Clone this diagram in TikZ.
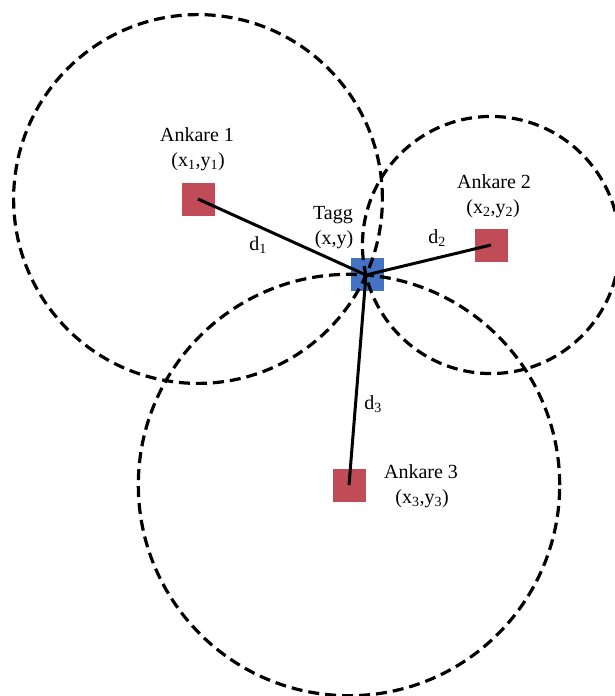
\documentclass[tikz,border=0pt]{standalone}
\usepackage{fontspec}
\setmainfont{Liberation Serif}
\usetikzlibrary{calc}
\definecolor{ankred}{RGB}{192,76,88}
\definecolor{tagblue}{RGB}{68,114,196}
\tikzset{
  anchorsq/.style={rectangle, fill=ankred, minimum size=33pt, inner sep=0pt},
  tagsq/.style={rectangle, fill=tagblue, minimum size=33pt, inner sep=0pt},
  rangecircle/.style={draw=black, line width=3.2pt, dash pattern=on 11pt off 6pt},
  distline/.style={draw=black, line width=3pt},
  lbl/.style={font=\fontsize{20}{23}\selectfont, anchor=base, inner sep=0pt},
}
\begin{document}
\begin{tikzpicture}[x=1pt,y=-1pt]
\useasboundingbox (0,0) rectangle (614,696);
% squares
\node[anchorsq] (a1) at (198,199) {};
\node[anchorsq] (a2) at (491,245) {};
\node[anchorsq] (a3) at (349,485) {};
\node[tagsq] (t) at (367,274) {};
\coordinate (tc) at (366,275);
% circles through the tag
\draw[rangecircle] let \p1=($(tc)-(a1.center)$), \n1={veclen(\x1,\y1)} in (a1.center) circle (\n1);
\draw[rangecircle] let \p1=($(tc)-(a2.center)$), \n1={veclen(\x1,\y1)} in (a2.center) circle (\n1);
\draw[rangecircle] let \p1=($(tc)-(a3.center)$), \n1={veclen(\x1,\y1)} in (a3.center) circle (\n1);
% distances
\draw[distline] (a1.center) -- (tc);
\draw[distline] (a2.center) -- (tc);
\draw[distline] (a3.center) -- (tc);
% labels
\node[lbl] (l1) at (197,141) {Ankare 1};
\node[lbl] (c1) at (198,166) {(x\textsubscript{1},y\textsubscript{1})};
\node[lbl] (l2) at (494,188) {Ankare 2};
\node[lbl] (c2) at (493,213) {(x\textsubscript{2},y\textsubscript{2})};
\node[lbl] (l3) at (421,478) {Ankare 3};
\node[lbl] (c3) at (422,503) {(x\textsubscript{3},y\textsubscript{3})};
\node[lbl] (lt) at (333,219) {Tagg};
\node[lbl] (ct) at (334,244) {(x,y)};
\node[lbl] (d1) at (258,250) {d\textsubscript{1}};
\node[lbl] (d2) at (437,243) {d\textsubscript{2}};
\node[lbl] (d3) at (373,409) {d\textsubscript{3}};
\end{tikzpicture}
\end{document}
